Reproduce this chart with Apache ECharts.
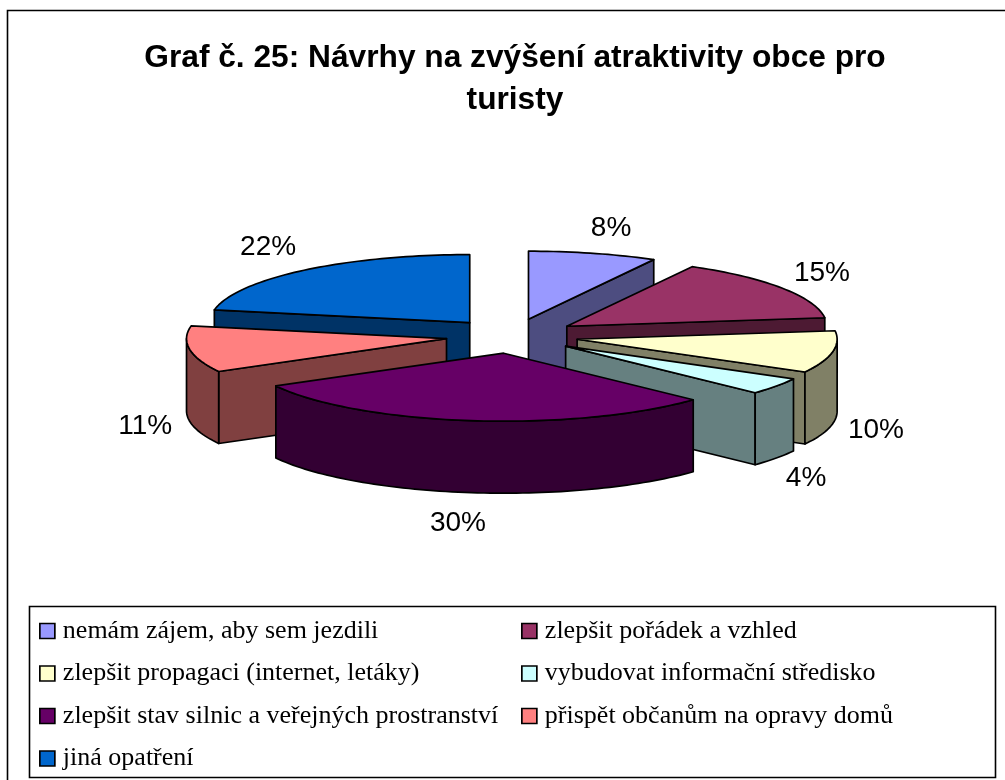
<!DOCTYPE html>
<html><head><meta charset="utf-8">
<script src="https://cdn.jsdelivr.net/npm/echarts@6/dist/echarts.min.js"></script>
<style>html,body{margin:0;padding:0;background:#fff}#c{width:1005px;height:780px}</style>
</head><body><div id="c"></div>
<script>
var titleText = 'Graf č. 25: Návrhy na zvýšení atraktivity obce pro\nturisty';
var categories = ['nemám zájem, aby sem jezdili','zlepšit pořádek a vzhled','zlepšit propagaci (internet, letáky)','vybudovat informační středisko','zlepšit stav silnic a veřejných prostranství','přispět občanům na opravy domů','jiná opatření'];
var values = [8,15,10,4,30,11,22];
var topColors = ['#9999FF','#993366','#FFFFCC','#CCFFFF','#660066','#FF8080','#0066CC'];
var wallColors = ['#4D4D80','#4D1A33','#808066','#668080','#330033','#804040','#003366'];
// label anchors in unit-ellipse axis coordinates
var labelAnchors = [[0.381,1.59],[1.192,0.926],[1.400,-1.383],[1.131,-2.089],[-0.208,-2.751],[-1.411,-1.324],[-0.938,1.308]];

var EXPLODE = 0.255, DEPTH = 72/68;
var total = values.reduce(function(a,b){return a+b;},0);
var cum = [0];
values.forEach(function(v,i){cum.push(cum[i]+v);});
function rad(p){return p/total*Math.PI*2;}
function ring(ax,ay,t){return [ax+Math.sin(t), ay+Math.cos(t)];}
function order(i){
  var mid = rad(cum[i]+values[i]/2);
  return 2 + Math.round((1-Math.cos(mid))*20);
}
function makeRender(i){
  return function(params, api){
    var v = api.value(0);
    var t1 = rad(cum[i]), t2 = rad(cum[i]+v), mid=(t1+t2)/2;
    var ax = EXPLODE*Math.sin(mid), ay = EXPLODE*Math.cos(mid);
    var P = function(p,down){return api.coord([p[0], p[1]-(down?DEPTH:0)]);};
    var stroke = {stroke:'#000', lineWidth:1.7, lineJoin:'round'};
    var children = [];
    function poly(pts,fill){
      children.push({type:'polygon',shape:{points:pts},style:Object.assign({fill:fill},stroke)});
    }
    function cut(t){
      var e = ring(ax,ay,t);
      poly([P([ax,ay]),P(e),P(e,true),P([ax,ay],true)], wallColors[i]);
    }
    if(t1>Math.PI) cut(t1);
    if(t2<Math.PI) cut(t2);
    var a = Math.max(t1,Math.PI/2), b = Math.min(t2,Math.PI*1.5);
    if(b>a){
      var up=[],dn=[], n=Math.ceil((b-a)*40);
      for(var k=0;k<=n;k++){
        var q = ring(ax,ay,a+(b-a)*k/n);
        up.push(P(q)); dn.unshift(P(q,true));
      }
      poly(up.concat(dn), wallColors[i]);
    }
    var top=[P([ax,ay])], m=Math.ceil((t2-t1)*40);
    for(var j=0;j<=m;j++){ top.push(P(ring(ax,ay,t1+(t2-t1)*j/m))); }
    poly(top, topColors[i]);
    var lp = api.coord(labelAnchors[i]);
    children.push({type:'text',style:{text:v+'%',x:lp[0],y:lp[1],fill:'#000',
      font:'28px "Liberation Sans"',textAlign:'center',textVerticalAlign:'middle',verticalAlign:'middle'}});
    return {type:'group',children:children};
  };
}
var series = categories.map(function(name,i){
  return {type:'custom',name:name,coordinateSystem:'cartesian2d',clip:false,silent:true,
    z:order(i),itemStyle:{color:topColors[i]},data:[[values[i],0]],
    encode:{x:0,y:1},renderItem:makeRender(i)};
});
function legendFor(names,left){
  return {orient:'vertical',left:left,top:612,itemWidth:15,itemHeight:15,itemGap:14.5,icon:'rect',
    selectedMode:false,data:names,
    itemStyle:{borderColor:'#000',borderWidth:1.7},
    textStyle:{fontFamily:'Liberation Serif',fontSize:26,color:'#000',padding:[0,0,0,3],lineHeight:28}};
}
var chart = echarts.init(document.getElementById('c'),null,{renderer:'canvas'});
chart.setOption({
  animation:false,backgroundColor:'#fff',
  title:{text:titleText,left:510,top:32,textAlign:'center',
    textStyle:{fontFamily:'Liberation Sans',fontWeight:'bold',fontSize:31.7,lineHeight:42,color:'#000'}},
  grid:{left:122,width:780,top:132,height:408,show:false},
  xAxis:{type:'value',min:-1.5,max:1.5,show:false},
  yAxis:{type:'value',min:-3,max:3,show:false},
  legend:[legendFor(categories.filter(function(c,i){return i%2===0;}),34),
          legendFor(categories.filter(function(c,i){return i%2===1;}),516)],
  graphic:[
    {type:'rect',z:0,silent:true,shape:{x:7.5,y:10.5,width:1010,height:790},style:{fill:'none',stroke:'#000',lineWidth:1.6}},
    {type:'rect',z:0,silent:true,shape:{x:29.5,y:606.5,width:966,height:171},style:{fill:'#fff',stroke:'#000',lineWidth:1.6}}
  ],
  series:series
});
</script></body></html>
